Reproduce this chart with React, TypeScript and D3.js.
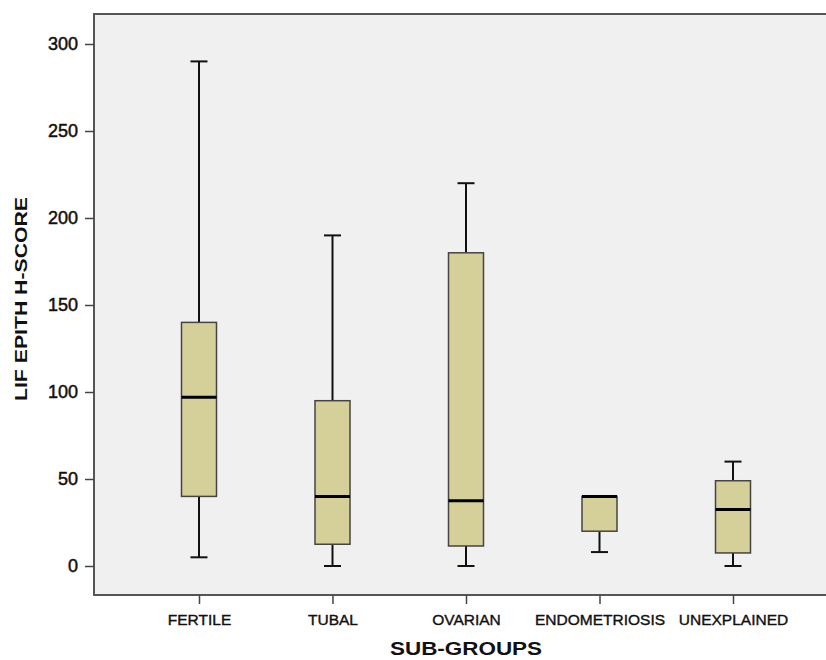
import React, { useEffect, useRef } from "react";
import * as d3 from "d3";

const groups = ["FERTILE", "TUBAL", "OVARIAN", "ENDOMETRIOSIS", "UNEXPLAINED"];
const mins = [5, 0, 0, 8, 0];
const q1s = [40, 12.5, 11.5, 20, 7.5];
const medians = [97, 40, 37.5, 40, 32.5];
const q3s = [140, 95, 180, 40, 49];
const maxs = [290, 190, 220, 40, 60];
const yTicks = [0, 50, 100, 150, 200, 250, 300];

const FONT = "Liberation Sans, Arial, sans-serif";

const App = () => {
  const svgRef = useRef<SVGSVGElement>(null);

  useEffect(() => {
    const width = 826;
    const height = 660;
    const left = 94;
    const top = 14;
    const bottom = 595;
    const right = 840;

    const svg = d3.select(svgRef.current);
    svg.selectAll("*").remove();
    svg.attr("width", width).attr("height", height);

    const x = d3.scalePoint().domain(groups).range([199, 733]);
    const y = d3.scaleLinear().domain([0, 300]).range([566, 44]);

    svg
      .append("rect")
      .attr("x", left)
      .attr("y", top)
      .attr("width", right - left)
      .attr("height", bottom - top)
      .attr("fill", "#f0f0f0")
      .attr("stroke", "#555")
      .attr("stroke-width", 2);

    const yAxis = svg
      .append("g")
      .attr("transform", `translate(${left},0)`)
      .call(d3.axisLeft(y).tickValues(yTicks).tickSize(9).tickPadding(7));
    yAxis.select(".domain").remove();
    yAxis.selectAll(".tick line").attr("stroke", "#444").attr("stroke-width", 1.5);
    yAxis
      .selectAll(".tick text")
      .attr("fill", "#111")
      .attr("stroke", "#111")
      .attr("stroke-width", 0.5)
      .style("font-family", FONT)
      .style("font-size", "18px");

    const xAxis = svg
      .append("g")
      .attr("transform", `translate(0,${bottom})`)
      .call(d3.axisBottom(x).tickSize(9).tickPadding(10));
    xAxis.select(".domain").remove();
    xAxis.selectAll(".tick line").attr("stroke", "#444").attr("stroke-width", 1.5);
    xAxis
      .selectAll(".tick text")
      .attr("fill", "#111")
      .attr("stroke", "#111")
      .attr("stroke-width", 0.4)
      .style("font-family", FONT)
      .style("font-size", "15.5px");

    const data = groups.map((g, i) => ({
      g,
      min: mins[i],
      q1: q1s[i],
      med: medians[i],
      q3: q3s[i],
      max: maxs[i],
    }));

    const boxW = 35;
    const capW = 17;

    const box = svg
      .selectAll(".box")
      .data(data)
      .enter()
      .append("g")
      .attr("class", "box");

    // whiskers
    box
      .append("line")
      .attr("x1", (d) => x(d.g)!)
      .attr("x2", (d) => x(d.g)!)
      .attr("y1", (d) => y(d.max))
      .attr("y2", (d) => y(d.q3))
      .attr("stroke", "#111")
      .attr("stroke-width", 2);
    box
      .append("line")
      .attr("x1", (d) => x(d.g)!)
      .attr("x2", (d) => x(d.g)!)
      .attr("y1", (d) => y(d.q1))
      .attr("y2", (d) => y(d.min))
      .attr("stroke", "#111")
      .attr("stroke-width", 2);
    box
      .filter((d) => d.max > d.q3)
      .append("line")
      .attr("x1", (d) => x(d.g)! - capW / 2)
      .attr("x2", (d) => x(d.g)! + capW / 2)
      .attr("y1", (d) => y(d.max))
      .attr("y2", (d) => y(d.max))
      .attr("stroke", "#111")
      .attr("stroke-width", 2);
    box
      .append("line")
      .attr("x1", (d) => x(d.g)! - capW / 2)
      .attr("x2", (d) => x(d.g)! + capW / 2)
      .attr("y1", (d) => y(d.min))
      .attr("y2", (d) => y(d.min))
      .attr("stroke", "#111")
      .attr("stroke-width", 2);

    box
      .append("rect")
      .attr("x", (d) => x(d.g)! - boxW / 2)
      .attr("y", (d) => y(d.q3))
      .attr("width", boxW)
      .attr("height", (d) => y(d.q1) - y(d.q3))
      .attr("fill", "#d5d09a")
      .attr("stroke", "#444")
      .attr("stroke-width", 1.5);

    box
      .append("line")
      .attr("x1", (d) => x(d.g)! - boxW / 2)
      .attr("x2", (d) => x(d.g)! + boxW / 2)
      .attr("y1", (d) => y(d.med))
      .attr("y2", (d) => y(d.med))
      .attr("stroke", "#000")
      .attr("stroke-width", 3);

    svg
      .append("text")
      .attr("transform", `translate(27,299) rotate(-90)`)
      .attr("text-anchor", "middle")
      .attr("fill", "#111")
      .attr("textLength", 204)
      .attr("lengthAdjust", "spacingAndGlyphs")
      .style("font-family", FONT)
      .style("font-size", "17px")
      .style("font-weight", "bold")
      .text("LIF EPITH H-SCORE");

    svg
      .append("text")
      .attr("x", 466)
      .attr("y", 655)
      .attr("text-anchor", "middle")
      .attr("fill", "#111")
      .attr("textLength", 152)
      .attr("lengthAdjust", "spacingAndGlyphs")
      .style("font-family", FONT)
      .style("font-size", "18px")
      .style("font-weight", "bold")
      .text("SUB-GROUPS");
  }, []);

  return (
    <svg
      ref={svgRef}
      style={{ position: "absolute", left: 0, top: 0, background: "white" }}
    ></svg>
  );
};

export default App;
